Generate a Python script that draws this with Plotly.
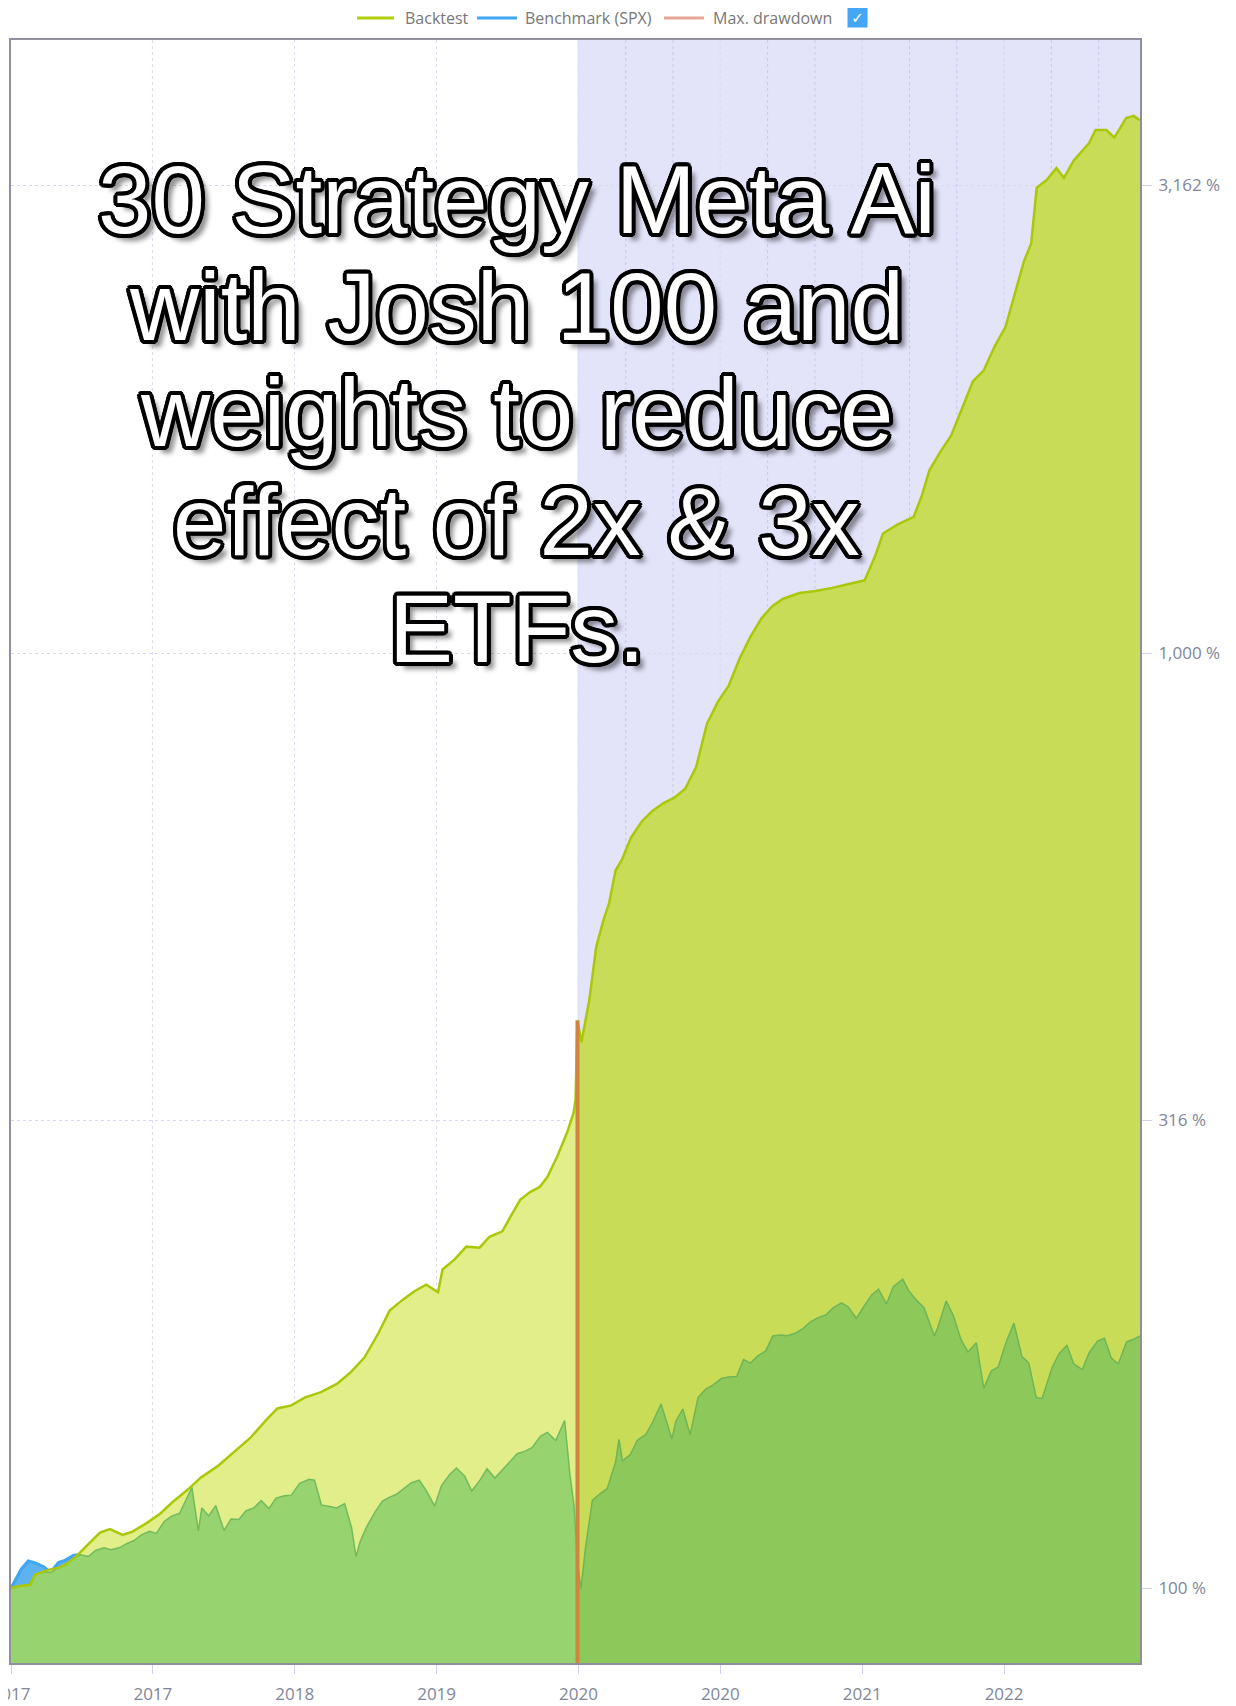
import math
import numpy as np
import pandas as pd
import plotly.graph_objects as go

# Benchmark (SPX), % of start value
bench_dates = [
    "2017-01-25", "2017-02-01", "2017-02-15", "2017-03-01", "2017-03-15", "2017-04-01", "2017-04-15",
    "2017-05-01", "2017-05-15", "2017-06-01", "2017-06-15", "2017-07-01", "2017-07-15", "2017-08-01",
    "2017-08-15", "2017-09-01", "2017-09-15", "2017-10-01", "2017-10-15", "2017-11-01", "2017-11-15",
    "2017-12-01", "2017-12-15",
    "2018-01-01", "2018-01-15", "2018-01-26", "2018-02-08", "2018-02-15", "2018-03-01", "2018-03-15",
    "2018-04-01", "2018-04-15", "2018-05-01", "2018-05-15", "2018-06-01", "2018-06-15", "2018-07-01",
    "2018-07-15", "2018-08-01", "2018-08-15", "2018-09-01", "2018-09-20", "2018-10-01", "2018-10-15",
    "2018-11-01", "2018-11-15", "2018-12-01", "2018-12-15", "2018-12-24",
    "2019-01-01", "2019-01-15", "2019-02-01", "2019-02-15", "2019-03-01", "2019-03-15", "2019-04-01",
    "2019-04-15", "2019-05-01", "2019-05-15", "2019-06-01", "2019-06-15", "2019-07-01", "2019-07-15",
    "2019-08-01", "2019-08-15", "2019-09-01", "2019-09-15", "2019-10-01", "2019-10-15", "2019-11-01",
    "2019-11-15", "2019-12-01", "2019-12-15",
    "2020-01-01", "2020-01-15", "2020-02-01", "2020-02-19", "2020-03-01", "2020-03-09", "2020-03-16",
    "2020-03-23", "2020-04-01", "2020-04-15", "2020-05-01", "2020-05-15", "2020-06-01", "2020-06-08",
    "2020-06-15", "2020-07-01", "2020-07-15", "2020-08-01", "2020-08-15", "2020-09-01", "2020-09-23",
    "2020-10-01", "2020-10-15", "2020-10-30", "2020-11-15", "2020-12-01", "2020-12-15",
    "2021-01-01", "2021-01-15", "2021-02-01", "2021-02-15", "2021-03-01", "2021-03-15", "2021-04-01",
    "2021-04-15", "2021-05-01", "2021-05-15", "2021-06-01", "2021-06-15", "2021-07-01", "2021-07-15",
    "2021-08-01", "2021-08-15", "2021-09-01", "2021-09-15", "2021-10-01", "2021-10-15", "2021-11-01",
    "2021-11-15", "2021-12-01", "2021-12-15",
    "2022-01-03", "2022-01-15", "2022-02-01", "2022-02-15", "2022-03-08", "2022-03-15", "2022-04-01",
    "2022-04-15", "2022-05-01", "2022-05-15", "2022-06-01", "2022-06-16", "2022-07-01", "2022-07-15",
    "2022-08-01", "2022-08-16", "2022-09-01", "2022-09-15", "2022-09-30", "2022-10-12", "2022-11-01",
    "2022-11-15", "2022-12-01", "2022-12-15",
    "2023-01-01", "2023-01-15", "2023-02-01", "2023-02-15", "2023-03-01", "2023-03-15", "2023-04-01",
    "2023-04-15", "2023-04-28",
]
bench_values = [
    100.0, 101.7, 104.8, 106.9, 106.4, 105.4, 103.9, 106.5, 107.1, 108.4, 108.5, 108.1, 109.7, 110.4,
    109.9, 110.4, 111.5, 112.4, 113.9, 115.0, 114.4, 117.8, 119.3,
    120.2, 124.3, 128.1, 115.1, 121.8, 119.4, 122.5, 115.2, 118.5, 118.4, 120.9, 121.9, 124.0, 121.6,
    124.8, 125.5, 125.7, 129.4, 130.7, 130.4, 122.7, 122.2, 121.8, 123.1, 116.0, 108.0,
    112.0, 116.4, 120.7, 123.8, 125.0, 125.9, 127.9, 129.6, 130.4, 127.1, 122.4, 128.7, 132.2, 134.4,
    131.7, 127.0, 130.5, 134.1, 131.1, 133.6, 136.8, 139.2, 140.1, 141.3,
    145.3, 146.7, 143.8, 151.0, 131.8, 122.5, 106.4, 99.8, 110.2, 124.1, 126.2, 127.7, 136.3, 144.2,
    136.8, 138.9, 143.9, 145.9, 150.4, 157.3, 144.4, 150.8, 155.4, 145.9, 159.9, 163.3, 164.8,
    167.5, 168.1, 168.3, 175.5, 174.0, 177.0, 179.3, 186.0, 186.5, 186.1, 187.4, 189.4, 192.7, 194.5,
    196.0, 199.3, 201.8, 199.8, 194.3, 199.4, 205.8, 208.8, 201.3, 210.0,
    213.9, 208.0, 202.8, 199.4, 186.0, 190.1, 202.7, 195.9, 184.3, 178.8, 182.9, 163.6, 170.6, 172.3,
    183.7, 192.0, 176.9, 174.0, 159.9, 159.5, 172.0, 178.0, 181.8, 173.7,
    171.2, 178.4, 183.7, 185.0, 176.2, 173.6, 183.3, 184.5, 186.0,
]

# Backtest, % of start value
back_dates = [
    "2017-01-25", "2017-02-11", "2017-03-05", "2017-03-14", "2017-04-14", "2017-05-04", "2017-05-17",
    "2017-06-06", "2017-07-04", "2017-07-24", "2017-08-13", "2017-09-08", "2017-09-28", "2017-10-27",
    "2017-11-22", "2017-12-18", "2018-01-16", "2018-02-14", "2018-03-19", "2018-04-21", "2018-05-24",
    "2018-06-26", "2018-07-18", "2018-08-15", "2018-09-11", "2018-10-14", "2018-11-16", "2018-12-12",
    "2019-01-10", "2019-02-08", "2019-03-02", "2019-03-28", "2019-04-21", "2019-05-15", "2019-06-08",
    "2019-06-17", "2019-07-11", "2019-08-04", "2019-08-31", "2019-09-20", "2019-10-16", "2019-11-01",
    "2019-11-21", "2019-12-11", "2019-12-31", "2020-01-15", "2020-02-04", "2020-02-24", "2020-03-08",
    "2020-03-12", "2020-03-16", "2020-03-24", "2020-04-09", "2020-04-23", "2020-05-08", "2020-05-19",
    "2020-06-01", "2020-06-14", "2020-07-02", "2020-07-24", "2020-08-15", "2020-09-06", "2020-09-28",
    "2020-10-20", "2020-11-11", "2020-12-03", "2020-12-25", "2021-01-16", "2021-02-07", "2021-03-01",
    "2021-03-23", "2021-04-14", "2021-05-06", "2021-06-08", "2021-07-11", "2021-08-13", "2021-09-15",
    "2021-10-18", "2021-11-09", "2021-11-24", "2021-12-23", "2022-01-25", "2022-02-11", "2022-02-26",
    "2022-03-20", "2022-04-11", "2022-05-03", "2022-05-25", "2022-06-16", "2022-07-08", "2022-07-30",
    "2022-08-21", "2022-09-05", "2022-09-20", "2022-10-01", "2022-10-21", "2022-11-10", "2022-11-25",
    "2022-12-15", "2023-01-15", "2023-01-28", "2023-02-19", "2023-03-07", "2023-03-31", "2023-04-15",
    "2023-04-28",
]
back_values = [
    100.0, 100.5, 100.8, 103.3, 104.7, 105.2, 106.1, 108.1, 111.9, 114.6, 115.6, 114.0, 114.9, 117.4,
    120.0, 123.6, 127.2, 131.4, 135.0, 139.8, 144.7, 151.4, 155.6, 156.8, 159.8, 162.0, 165.4, 169.9,
    176.4, 187.6, 198.0, 203.3, 207.7, 211.1, 207.2, 219.1, 224.5, 231.8, 231.2, 237.5, 240.7, 249.2,
    260.1, 265.1, 268.6, 275.1, 289.4, 307.0, 322.2, 332.7, 404.6, 383.5, 425.7, 485.3, 518.9, 540.2,
    585.3, 601.2, 634.3, 660.3, 678.2, 691.0, 700.4, 715.7, 754.9, 840.3, 886.6, 922.9, 986.7, 1041,
    1089, 1122, 1143, 1159, 1165, 1174, 1184, 1196, 1273, 1342, 1372, 1398, 1475, 1568, 1641, 1709,
    1826, 1953, 2006, 2128, 2233, 2452, 2621, 2744, 3146, 3205, 3301, 3222, 3363, 3510, 3625, 3625,
    3558, 3734, 3754, 3714,
]

y_tick_vals = [100, 316.2, 1000, 3162.3]
y_tick_text = ["100 %", "316 %", "1,000 %", "3,162 %"]

legend_names = ["Backtest", "Benchmark (SPX)", "Max. drawdown"]
legend_colors = ["#b2cf0a", "#3ea6f2", "#e6a595"]

title_lines = [
    "30 Strategy Meta Ai",
    "with Josh 100 and",
    "weights to reduce",
    "effect of 2x & 3x",
    "ETFs.",
]

start_date = "2017-01-25"
end_date = "2023-04-28"
drawdown_date = "2020-03-16"
DAY_MS = 86400000
TICK_DAYS = 287

bd = pd.to_datetime(bench_dates)
kd = pd.to_datetime(back_dates)
bench = np.array(bench_values, dtype=float)
back = np.array(back_values, dtype=float)
split = pd.Timestamp(drawdown_date)

# part of the area that lies under both curves
back_on_bench = np.interp(bd.values.astype("int64"), kd.values.astype("int64"), back)
overlap = np.minimum(bench, back_on_bench)

b_pre, b_post = bd <= split, bd >= split
k_pre, k_post = kd <= split, kd >= split
back_at_split = back[kd == split][0]

fig = go.Figure()

# benchmark area (shows only where it rises above the backtest)
fig.add_trace(go.Scatter(x=bd, y=bench, mode="lines", line=dict(width=0),
                         fill="tozeroy", fillcolor="#5db3f0", hoverinfo="skip"))
fig.add_trace(go.Scatter(x=bd, y=bench, mode="lines", name=legend_names[1],
                         line=dict(color=legend_colors[1], width=3)))

# backtest area, in-sample and out-of-sample
fig.add_trace(go.Scatter(x=kd[k_pre], y=back[k_pre], mode="lines", line=dict(width=0),
                         fill="tozeroy", fillcolor="#e2ee8a", hoverinfo="skip"))
fig.add_trace(go.Scatter(x=kd[k_post], y=back[k_post], mode="lines", line=dict(width=0),
                         fill="tozeroy", fillcolor="#c9dc58", hoverinfo="skip"))

# overlap area
fig.add_trace(go.Scatter(x=bd[b_pre], y=overlap[b_pre], mode="lines",
                         line=dict(color="#72bb5c", width=1.5),
                         fill="tozeroy", fillcolor="#97d36f", hoverinfo="skip"))
fig.add_trace(go.Scatter(x=bd[b_post], y=overlap[b_post], mode="lines",
                         line=dict(color="#6fb556", width=1.5),
                         fill="tozeroy", fillcolor="#8dc85b", hoverinfo="skip"))

fig.add_trace(go.Scatter(x=kd, y=back, mode="lines", name=legend_names[0],
                         line=dict(color="#abc806", width=2.5)))

# max drawdown marker
fig.add_trace(go.Scatter(x=[split, split], y=[50, back_at_split], mode="lines",
                         name=legend_names[2], line=dict(color="#cd8540", width=4),
                         hoverinfo="skip"))

# shaded out-of-sample period with its finer grid
fig.add_shape(type="rect", xref="x", yref="paper", x0=split, x1=end_date, y0=0, y1=1,
              fillcolor="#e3e3fa", line=dict(width=0), layer="below")
minor_step = pd.Timedelta(days=TICK_DAYS / 3)
g = pd.Timestamp(start_date)
while g < pd.Timestamp(end_date):
    if g > split + pd.Timedelta(days=10):
        fig.add_shape(type="line", xref="x", yref="paper", x0=g, x1=g, y0=0, y1=1,
                      line=dict(color="#c6c7ef", width=1, dash="dot"), layer="below")
    g += minor_step

# legend row drawn by hand (line sample + label), plus the checkbox
leg_y = 1.0136
leg_line_x = [(0.3065, 0.3392), (0.4128, 0.4482), (0.5784, 0.6138)]
leg_text_x = [0.3481, 0.4544, 0.6209]
for name, color, (x0, x1), tx in zip(legend_names, legend_colors, leg_line_x, leg_text_x):
    fig.add_shape(type="line", xref="paper", yref="paper", x0=x0, x1=x1, y0=leg_y, y1=leg_y,
                  line=dict(color=color, width=3))
    fig.add_annotation(x=tx, y=leg_y, xref="paper", yref="paper", text=name,
                       showarrow=False, xanchor="left", yanchor="middle", borderpad=0,
                       font=dict(family="Open Sans", size=16, color="#787878"))
fig.add_annotation(x=0.7502, y=leg_y, xref="paper", yref="paper", text="✓",
                   showarrow=False, xanchor="center", yanchor="middle",
                   font=dict(family="DejaVu Sans", size=15, color="white"),
                   bgcolor="#45a6f5", width=19, height=19, borderpad=0)

# outlined caption
angles = [i * math.pi / 8 for i in range(16)]
outline = [f"{4 * math.cos(a):.1f}px {4 * math.sin(a):.1f}px 0 #000" for a in angles]
shadow = ", ".join(outline + ["7px 7px 5px rgba(0,0,0,0.45)"])
line_y = [0.9020, 0.8355, 0.7702, 0.7036, 0.6371]
for text, yy in zip(title_lines, line_y):
    fig.add_annotation(x=0.448, y=yy, xref="paper", yref="paper", text=text,
                       showarrow=False, xanchor="center", yanchor="middle",
                       font=dict(family="Liberation Sans", size=96, color="white",
                                 shadow=shadow))

axis_font = dict(family="Open Sans", size=17, color="#80869a")
fig.update_layout(
    width=1236, height=1706,
    # page body adds 8px, so margins are shifted by that amount
    margin=dict(l=3, r=104, t=32, b=51, autoexpand=False),
    paper_bgcolor="white", plot_bgcolor="white",
    font=dict(family="Open Sans"),
    showlegend=False,
    xaxis=dict(
        type="date", range=[start_date, end_date], automargin=False,
        tick0=start_date, dtick=TICK_DAYS * DAY_MS, tickformat="%Y",
        ticks="outside", ticklen=9, tickcolor="#cfd0ee", ticklabelstandoff=6,
        showgrid=True, gridcolor="#dcdcf5", griddash="dot",
        showline=True, linecolor="#8f8fa0", linewidth=2, mirror=True,
        zeroline=False, ticklabeloverflow="allow", tickfont=axis_font,
    ),
    yaxis=dict(
        type="log", range=[1.9198, 3.6556], side="right", automargin=False,
        tickvals=y_tick_vals, ticktext=y_tick_text,
        ticks="outside", ticklen=10, tickcolor="#cfd0ee", ticklabelstandoff=3,
        showgrid=True, gridcolor="#d8d8f4", griddash="dot",
        showline=True, linecolor="#8f8fa0", linewidth=2, mirror=True,
        zeroline=False, tickfont=axis_font,
    ),
)

fig.write_html("out.html")
